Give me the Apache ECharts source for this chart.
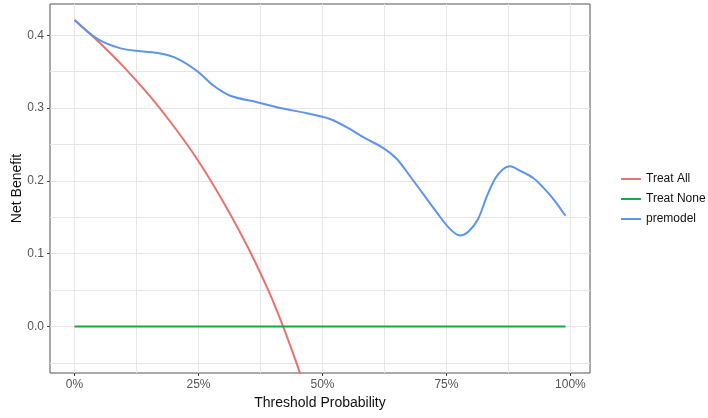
<!DOCTYPE html>
<html>
<head>
<meta charset="utf-8">
<script src="https://cdn.jsdelivr.net/npm/echarts@6/dist/echarts.min.js"></script>
<style>
  html, body { margin: 0; padding: 0; background: #fff; }
  #chart { width: 708px; height: 418px; }
</style>
</head>
<body>
<div id="chart"></div>
<script>
// threshold probabilities and net benefit
const allThresholds = [0, 0.05, 0.1, 0.15, 0.2, 0.25, 0.3, 0.35, 0.4, 0.45, 0.5];
const allBenefit = [0.421, 0.39, 0.356, 0.318, 0.275, 0.227, 0.171, 0.108, 0.035, -0.055, -0.16];

const noneThresholds = [0, 0.99];
const noneBenefit = [0, 0];

const modelThresholds = [0, 0.046, 0.093, 0.133, 0.173, 0.207, 0.247, 0.28, 0.314, 0.368, 0.415, 0.468,
  0.515, 0.556, 0.582, 0.623, 0.65, 0.676, 0.703, 0.73, 0.757, 0.777, 0.794, 0.814, 0.831, 0.848,
  0.864, 0.878, 0.898, 0.925, 0.945, 0.968, 0.99];
const modelBenefit = [0.421, 0.395, 0.382, 0.378, 0.375, 0.368, 0.351, 0.331, 0.317, 0.308, 0.3, 0.293,
  0.285, 0.271, 0.26, 0.245, 0.23, 0.207, 0.182, 0.157, 0.134, 0.125, 0.13, 0.148, 0.178, 0.203,
  0.216, 0.22, 0.214, 0.204, 0.191, 0.173, 0.152];

const xMajor = [0, 0.25, 0.5, 0.75, 1];
const xGrid = [0, 0.125, 0.25, 0.375, 0.5, 0.625, 0.75, 0.875, 1];
const yMajor = [0, 0.1, 0.2, 0.3, 0.4];
const yGrid = [-0.05, 0, 0.05, 0.1, 0.15, 0.2, 0.25, 0.3, 0.35, 0.4];

const X_MIN = -0.0495, X_MAX = 1.0395;
const Y_MIN = -0.064, Y_MAX = 0.443;

const pairs = (xs, ys) => xs.map((x, i) => [x, ys[i]]);

const chart = echarts.init(document.getElementById('chart'));
const textFont = 'Liberation Sans, Arial, sans-serif';

chart.setOption({
  animation: false,
  textStyle: { fontFamily: textFont },
  grid: {
    left: 50, right: 118, top: 4, bottom: 45,
    outerBoundsMode: 'none', containLabel: false,
    show: true, borderColor: '#555', borderWidth: 1, backgroundColor: '#fff',
  },
  legend: {
    orient: 'vertical',
    left: 616, top: 168,
    itemWidth: 20, itemHeight: 2, itemGap: 8,
    icon: 'rect',
    textStyle: { fontSize: 12, color: '#111', fontFamily: textFont },
    data: ['Treat All', 'Treat None', 'premodel'],
  },
  xAxis: [
    {
      type: 'value', min: X_MIN, max: X_MAX,
      axisLine: { show: false, onZero: false },
      axisTick: { show: false, customValues: xGrid },
      axisLabel: { show: false },
      splitLine: { show: true, lineStyle: { color: '#e6e6e6', width: 1 } },
    },
    {
      type: 'value', min: X_MIN, max: X_MAX, position: 'bottom',
      name: 'Threshold Probability', nameLocation: 'middle', nameGap: 23, nameMoveOverlap: false,
      nameTextStyle: { fontSize: 14, color: '#111' },
      axisLine: { show: false, onZero: false },
      axisTick: { show: true, length: 3, customValues: xMajor, lineStyle: { color: '#444' } },
      axisLabel: {
        customValues: xMajor, margin: 6, fontSize: 12, color: '#555',
        formatter: v => Math.round(v * 100) + '%',
      },
      splitLine: { show: false },
    },
  ],
  yAxis: [
    {
      type: 'value', min: Y_MIN, max: Y_MAX,
      axisLine: { show: false, onZero: false },
      axisTick: { show: false, customValues: yGrid },
      axisLabel: { show: false },
      splitLine: { show: true, lineStyle: { color: '#e6e6e6', width: 1 } },
    },
    {
      type: 'value', min: Y_MIN, max: Y_MAX, position: 'left',
      name: 'Net Benefit', nameLocation: 'middle', nameGap: 26, nameRotate: 90, nameMoveOverlap: false,
      nameTextStyle: { fontSize: 14, color: '#111' },
      axisLine: { show: false, onZero: false },
      axisTick: { show: true, length: 3, customValues: yMajor, lineStyle: { color: '#444' } },
      axisLabel: {
        customValues: yMajor, margin: 6, fontSize: 12, color: '#555',
        formatter: v => v.toFixed(1),
      },
      splitLine: { show: false },
    },
  ],
  series: [
    {
      name: 'Treat All', type: 'line', xAxisIndex: 0, yAxisIndex: 0,
      data: pairs(allThresholds, allBenefit), smooth: 0.4, showSymbol: false,
      lineStyle: { color: '#e8736c', width: 2 }, itemStyle: { color: '#e8736c' },
    },
    {
      name: 'Treat None', type: 'line', xAxisIndex: 0, yAxisIndex: 0,
      data: pairs(noneThresholds, noneBenefit), showSymbol: false,
      lineStyle: { color: '#1aa845', width: 2 }, itemStyle: { color: '#1aa845' },
    },
    {
      name: 'premodel', type: 'line', xAxisIndex: 0, yAxisIndex: 0,
      data: pairs(modelThresholds, modelBenefit), smooth: 0.3, showSymbol: false,
      lineStyle: { color: '#5d94ec', width: 2 }, itemStyle: { color: '#5d94ec' },
    },
  ],
});
</script>
</body>
</html>
